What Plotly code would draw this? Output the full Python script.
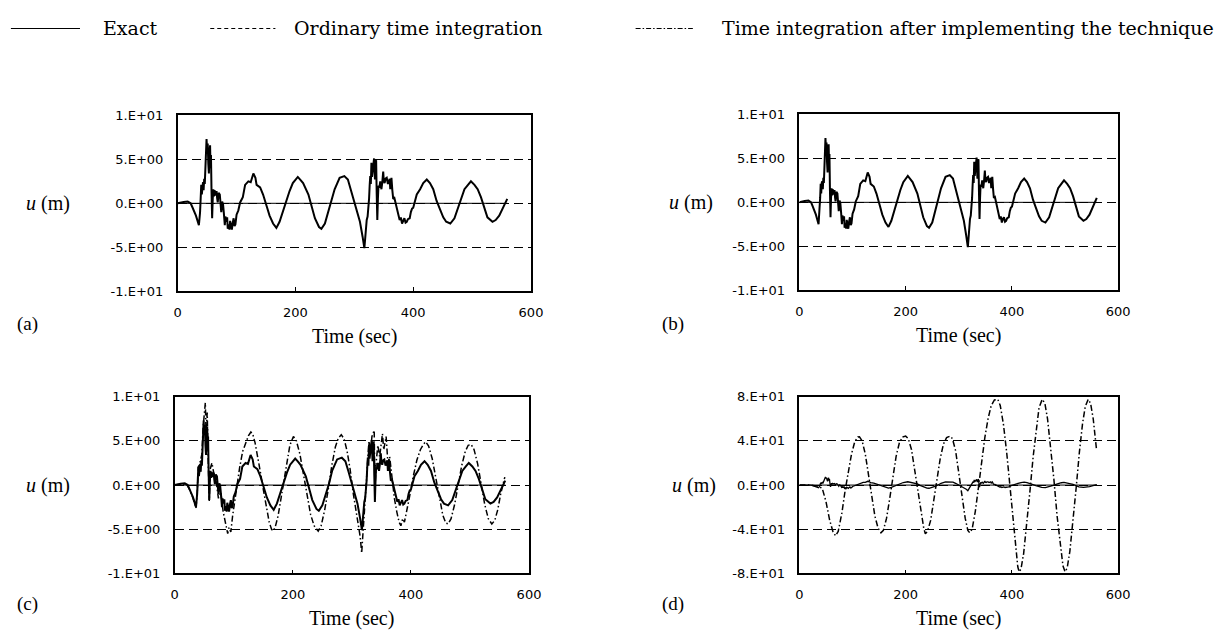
import plotly.graph_objects as go

# ---------------- data ----------------
t_exact = [0, 5, 10, 17, 22, 25, 31, 36, 37, 38, 39, 40, 41, 42, 43, 44, 45, 46, 47, 48, 49, 50, 51, 52, 53, 54, 55,
           55.8, 56.5, 57.5, 58.5, 59.5, 60.5, 61.5, 62.6, 64, 66, 67, 68, 69.5, 71.5, 73, 74, 75.5, 77, 78.5, 80, 81,
           82.5, 84, 85, 86.6, 88, 89, 90.5, 92, 93.5, 95, 96.5, 98, 100, 101.5, 103, 106, 110.6, 114.5, 120, 124,
           128.5, 132, 134, 140, 145, 151, 156, 162, 167.6, 173, 179, 184, 190, 195.5, 204, 208, 213, 222, 227, 233,
           240, 244, 250, 255, 261, 266.5, 275, 283, 289, 294, 300, 305.5, 309.5, 314, 317, 318.4, 320, 321, 322.5,
           323.4, 325, 326, 327, 328, 329, 330, 331, 332, 333.5, 334.3, 335, 336, 337, 338, 339, 340, 341, 342.5, 344,
           345, 346, 347.5, 349, 350, 351.4, 353, 355, 357, 358.6, 360, 361, 362, 363, 364.5, 366, 368, 370, 372, 374,
           375.5, 377, 379, 381, 383, 385, 387, 389, 391, 394, 396, 398, 400, 402, 406, 411.7, 417, 423, 428.4, 434,
           439.6, 445, 451, 456, 463, 470, 476, 481.5, 487, 493, 498, 504, 509.4, 515, 520.6, 526, 534.6, 540, 546,
           552.5, 559.7]
u_exact = [0, 0.1, 0.15, 0.2, 0.0, -0.45, -1.4, -2.5, -1.8, -1.0, 0.5, 2.1, 1.0, 2.2, 2.4, 1.5, 2.8, 2.2, 3.5, 5.5,
           7.3, 6.0, 6.8, 4.5, 3.4, 5.8, 6.6, 4.0, 5.5, 1.2, -1.7, 0.5, 1.6, 0.8, 1.5, 0.9, 1.4, 0.6, 0.1, 1.2, 1.0,
           -0.2, -1.0, 0.2, -0.1, -1.2, -2.5, -1.5, -2.1, -1.6, -2.9, -2.4, -3.0, -2.0, -2.6, -3.0, -2.2, -1.7, -2.6,
           -2.4, -1.3, -1.0, -0.8, 0.1, 0.7, 2.1, 2.5, 2.4, 3.4, 2.9, 2.1, 1.8, 1.0, -0.3, -1.4, -2.3, -2.8, -2.1,
           -0.8, 0.3, 1.4, 2.3, 3.0, 2.7, 2.3, 1.0, -0.3, -1.7, -2.7, -2.9, -2.3, -1.2, 0.1, 1.6, 2.9, 3.1, 2.7, 1.6,
           0.1, -1.0, -2.1, -3.8, -5.1, -4.0, -2.5, -1.9, -1.5, -1.0, 0.5, 2.0, 3.1, 2.2, 4.6, 3.0, 3.4, 4.2, 5.1, 3.5,
           2.7, 4.8, 4.9, 1.0, -1.9, 0.5, 2.0, 1.8, 2.5, 2.0, 1.6, 2.4, 3.6, 2.6, 2.3, 2.8, 2.9, 2.2, 2.5, 2.8, 1.6,
           2.2, 2.9, 1.5, 0.5, 0.6, 0.1, -0.4, -0.8, -1.5, -1.9, -1.6, -2.3, -1.9, -1.7, -2.2, -2.1, -1.8, -1.7, -1.0,
           -0.6, -0.5, 0.1, 1.0, 1.6, 2.3, 2.7, 2.3, 1.6, 0.3, -0.6, -1.6, -2.1, -2.3, -1.7, -0.6, 0.5, 1.6, 2.1, 2.5,
           2.1, 1.6, 0.7, -0.6, -1.6, -2.1, -1.9, -1.4, -0.4, 0.5]

t_tech_c = [0, 10, 20, 25, 31, 36, 38, 40, 43, 46, 48, 50, 51.8, 53, 55, 57, 58.5, 60, 63, 66, 70, 74, 78, 82, 86,
            89.7, 92, 95, 98, 102, 106, 110, 115, 120, 125, 129, 132, 136, 140, 145, 150, 155, 160, 164, 166.7, 170,
            175, 180, 185, 190, 195, 201, 206, 212, 218, 224, 230, 236, 243, 248, 254, 260, 266, 272, 277, 282, 287,
            292, 297, 302, 307, 311, 314, 316.6, 318.5, 321, 324, 327, 329, 331, 334, 337.8, 339, 341, 344, 347,
            351.8, 354, 358, 361, 364, 368, 372, 376, 380, 383, 386, 389, 393, 398, 404, 410, 416, 421, 425, 430,
            436, 442, 448, 454, 459, 463, 468, 474, 480, 486, 492, 497, 502, 507, 513, 519, 525, 531, 537, 542, 547,
            552, 556, 559]
u_tech_c = [0, 0.1, 0.1, -0.5, -1.5, -2.6, -1.0, 2.0, 2.6, 3.5, 6.5, 8.0, 9.3, 6.0, 8.2, 2.0, -1.8, 1.8, 2.5, 1.4,
            0.5, -1.5, -0.8, -3.0, -4.5, -5.5, -4.8, -5.3, -3.5, -1.5, 0.5, 2.0, 3.8, 4.8, 5.6, 6.0, 5.8, 4.8, 3.5,
            1.5, -0.5, -2.5, -4.2, -5.0, -5.2, -4.8, -3.5, -1.5, 0.5, 2.8, 4.5, 5.5, 5.0, 3.5, 1.2, -1.2, -3.3, -4.6,
            -5.2, -4.6, -2.8, -0.5, 2.2, 4.3, 5.3, 5.7, 5.2, 3.8, 1.8, -0.8, -3.0, -4.5, -5.8, -7.7, -5.5, -3.0, -0.5,
            3.0, 5.0, 3.5, 5.5, 6.2, -1.0, 2.5, 4.5, 3.2, 5.8, 4.0, 5.5, 2.5, 3.2, 0.5, -1.5, -3.0, -4.2, -4.6, -3.8,
            -4.2, -3.0, -1.2, 1.0, 2.8, 4.0, 4.6, 4.9, 4.4, 3.0, 0.8, -1.6, -3.4, -4.3, -4.4, -3.8, -2.2, 0.0, 2.2,
            3.8, 4.5, 4.6, 4.0, 2.4, 0.2, -2.2, -3.8, -4.4, -4.0, -2.8, -1.0, 0.3, 0.9]

t_tech_d = [0, 20, 35, 43, 50, 57, 63, 68, 73, 80, 86, 92, 98, 104, 110, 113, 118, 124, 130, 136, 142, 148, 153.5,
            158, 164, 170, 176, 182, 188, 194, 200, 205, 211, 217, 223, 229, 234, 237, 241, 247, 253, 259, 265, 271,
            277, 283.5, 288, 294, 300, 306, 312, 317, 320.6, 325, 331, 337, 343, 349, 355, 361, 367, 373.4, 378, 384,
            390, 396, 402, 407, 411, 413.5, 417, 422, 428, 434, 440, 446, 451, 457, 462, 467, 473, 479, 485, 491, 496,
            500, 504, 509, 515, 521, 527, 533, 538, 543.5, 548, 553, 559]
u_tech_d = [0, 0, -1, -3, -15, -32, -42, -46, -42, -25, -5, 12, 28, 39, 43.5, 43.7, 40, 28, 10, -10, -28, -39, -43.2,
            -41, -30, -12, 8, 26, 38, 43.5, 44.3, 42, 32, 14, -6, -26, -39, -44, -42, -32, -14, 6, 24, 37, 43, 44.3,
            42, 31, 12, -10, -30, -41, -43.2, -40, -24, -2, 22, 43, 60, 72, 77, 77.6, 72, 55, 30, 0, -32, -58, -74,
            -78.5, -76, -62, -35, -5, 26, 52, 70, 77.6, 74, 60, 35, 5, -28, -56, -73, -78.5, -75, -60, -33, -2, 30,
            56, 71, 77.6, 74, 60, 33]

t_zero = [0, 560]
u_zero = [0, 0]

x_ticks = [0, 200, 400, 600]
x_tick_text = ["0", "200", "400", "600"]
y_ticks_small = [-10, -5, 0, 5, 10]
y_text_small = ["-1.E+01", "-5.E+00", "0.E+00", "5.E+00", "1.E+01"]
y_ticks_big = [-80, -40, 0, 40, 80]
y_text_big = ["-8.E+01", "-4.E+01", "0.E+00", "4.E+01", "8.E+01"]

panel_labels = ["(a)", "(b)", "(c)", "(d)"]
legend_names = ["Exact", "Ordinary time integration", "Time integration after implementing the technique"]

# ---------------- figure ----------------
W, H = 1220, 642
fig = go.Figure()


def px(x):
    return x / W


def py(y):
    return 1 - y / H


# panel boxes (left, top, right, bottom) in pixels
boxes = [(176, 111, 534, 291), (806, 110, 1129, 290), (173, 399, 532, 580), (806, 399, 1129, 580)]
ylab_x = [45, 696, 45, 699]
plab = [(24, 325), (678, 325), (24, 611), (678, 611)]

SERIF = "Liberation Serif, Times New Roman, serif"
WSERIF = "DejaVu Serif, serif"
SANS = "DejaVu Sans, Arial, sans-serif"
DASHDOT = "6px,2.5px,1.5px,2.5px"

for i, (l, t, r, b) in enumerate(boxes):
    k = "" if i == 0 else str(i + 1)
    big = (i == 3)
    fig.update_layout(**{
        "xaxis" + k: dict(domain=[px(l), px(r)], range=[0, 600], anchor="y" + k,
                          tickvals=x_ticks, ticktext=x_tick_text, ticks="inside", ticklen=4,
                          tickcolor="black", showline=True, mirror=True, linecolor="black",
                          linewidth=1.5, showgrid=False, zeroline=False,
                          tickfont=dict(family=SANS, size=13, color="black"), ticklabelstandoff=8),
        "yaxis" + k: dict(domain=[py(b), py(t)], range=[-80, 80] if big else [-10, 10], anchor="x" + k,
                          tickvals=y_ticks_big if big else y_ticks_small,
                          ticktext=y_text_big if big else y_text_small,
                          ticks="", showline=True, mirror=True, linecolor="black", linewidth=1.5,
                          showgrid=True, gridcolor="black", gridwidth=1, griddash="9px,5px",
                          zeroline=False, tickfont=dict(family=SANS, size=13, color="black"),
                          ticklabelstandoff=10),
    })
    xa, ya = "x" + k, "y" + k
    fig.add_trace(go.Scatter(x=t_zero, y=u_zero, mode="lines", xaxis=xa, yaxis=ya,
                             line=dict(color="black", width=1), showlegend=False, hoverinfo="skip"))
    if i == 2:
        fig.add_trace(go.Scatter(x=t_tech_c, y=u_tech_c, mode="lines", xaxis=xa, yaxis=ya,
                                 name=legend_names[2], line=dict(color="black", width=1.5, dash=DASHDOT),
                                 showlegend=False))
    if i == 3:
        fig.add_trace(go.Scatter(x=t_tech_d, y=u_tech_d, mode="lines", xaxis=xa, yaxis=ya,
                                 name=legend_names[2], line=dict(color="black", width=1.5, dash=DASHDOT),
                                 showlegend=False))
    fig.add_trace(go.Scatter(x=t_exact, y=u_exact, mode="lines", xaxis=xa, yaxis=ya,
                             name=legend_names[0], line=dict(color="black", width=2 if i < 3 else 1.3),
                             showlegend=False))
    # axis titles & panel labels
    fig.add_annotation(x=px((l + r) / 2), y=py(b + 46), xref="paper", yref="paper", text="Time (sec)",
                       xanchor="center", yanchor="middle", showarrow=False,
                       font=dict(family=SERIF, size=20, color="black"))
    fig.add_annotation(x=px(ylab_x[i]), y=py((t + b) / 2), xref="paper", yref="paper", text="<i>u</i> (m)",
                       xanchor="center", yanchor="middle", showarrow=False,
                       font=dict(family=SERIF, size=20, color="black"))
    fig.add_annotation(x=px(plab[i][0]), y=py(plab[i][1]), xref="paper", yref="paper", text=panel_labels[i],
                       xanchor="center", yanchor="middle", showarrow=False,
                       font=dict(family=SERIF, size=19, color="black"))

# legend keys drawn as short lines with text
legend_items = [(7, 77, "solid", 98), (209, 275, "4px,3px", 292), (640, 698, "5px,2px,1.5px,2px", 726)]
for (x0, x1, dash, tx), name in zip(legend_items, legend_names):
    fig.add_shape(type="line", xref="paper", yref="paper", x0=px(x0), x1=px(x1), y0=py(22), y1=py(22),
                  line=dict(color="black", width=1.2, dash=dash))
    fig.add_annotation(x=px(tx), y=py(21), xref="paper", yref="paper", text=name,
                       xanchor="left", yanchor="middle", showarrow=False,
                       font=dict(family=WSERIF, size=19, color="black"))

fig.update_layout(width=W, height=H, margin=dict(l=0, r=0, t=0, b=0),
                  paper_bgcolor="white", plot_bgcolor="white", showlegend=False)

fig.write_html("out.html", config={"displayModeBar": False},
               post_script="document.body.style.margin='0';document.body.style.overflow='hidden';")
